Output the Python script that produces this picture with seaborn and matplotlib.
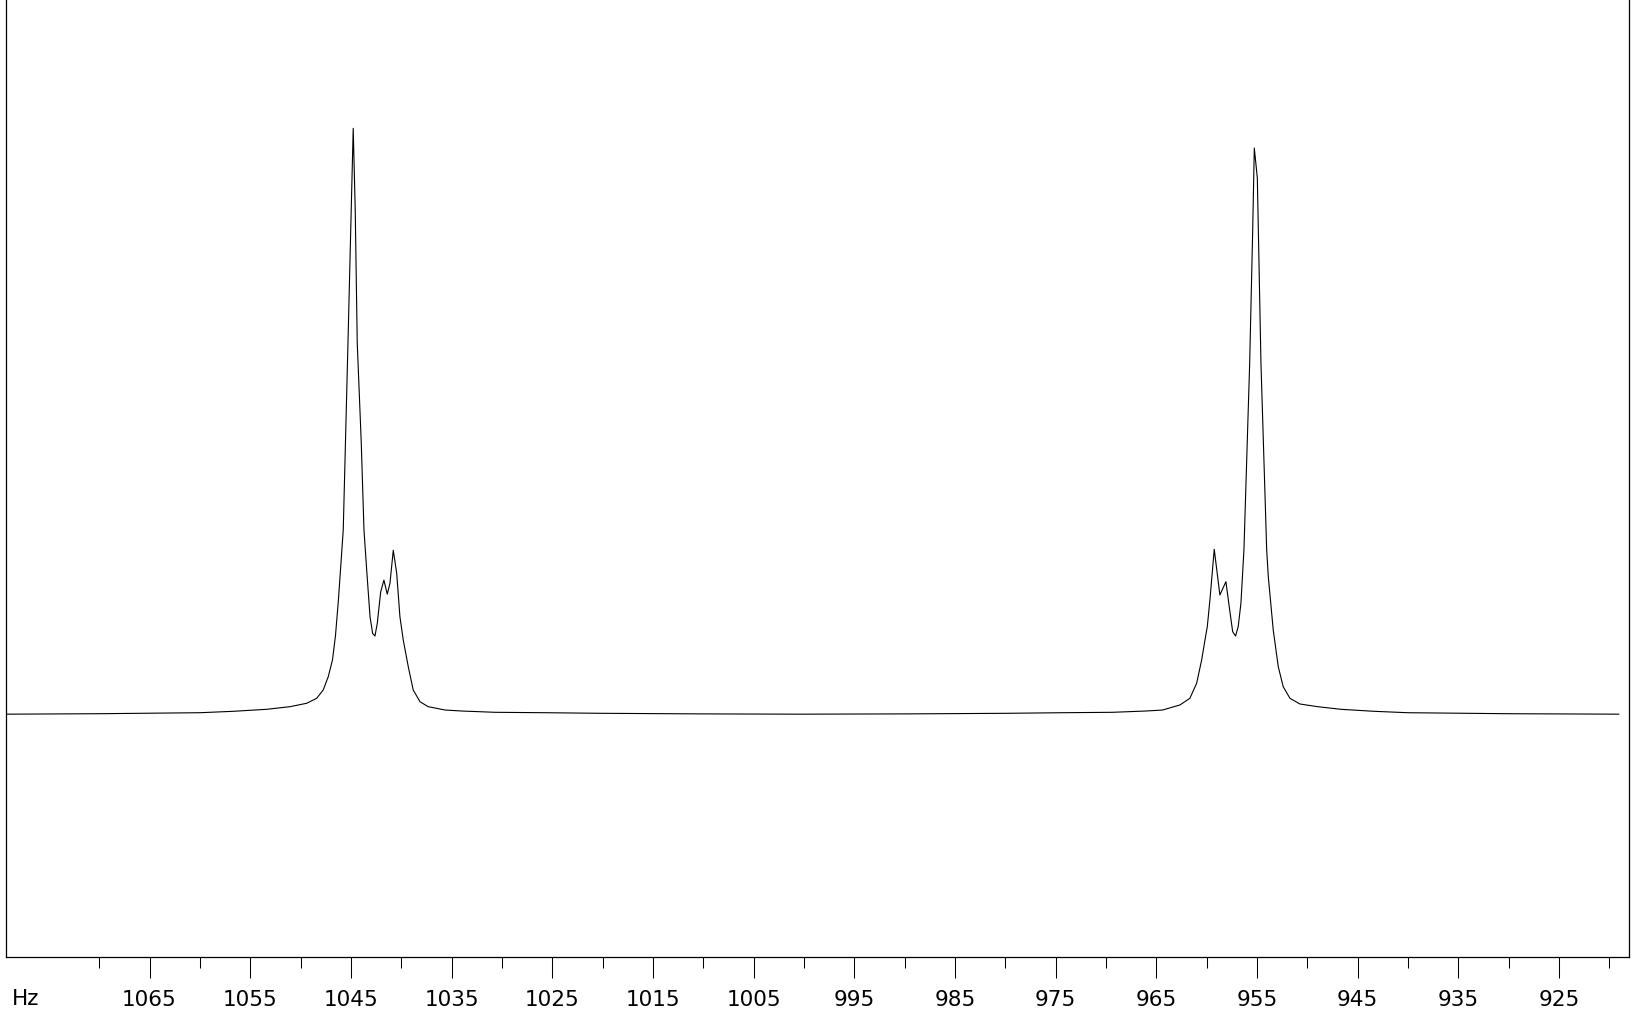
import numpy as np
import pandas as pd
import seaborn as sns
import matplotlib.pyplot as plt
from matplotlib.ticker import FixedLocator, FuncFormatter

# spectrum trace (Hz, relative intensity)
hz = [1079.26, 1069.93, 1059.99, 1056.69, 1053.37, 1051.05, 1049.39, 1048.40,
      1047.75, 1047.25, 1046.83, 1046.53, 1046.24, 1045.76, 1045.29,
      1044.77, 1044.57, 1044.37, 1043.97, 1043.70, 1043.43, 1043.10, 1042.84,
      1042.61, 1042.38, 1042.04, 1041.72, 1041.39, 1041.12, 1040.79, 1040.45,
      1040.13, 1039.80, 1039.30, 1038.81, 1038.14, 1037.32, 1035.66, 1034.00,
      1030.69, 1025.72, 1020.26, 1010.33, 1000.40, 989.70, 979.77, 974.31,
      969.34, 966.03, 964.37, 962.65, 961.66, 960.99, 960.49, 960.16,
      959.93, 959.67, 959.24, 958.68, 958.08, 957.75, 957.41, 957.12,
      956.86, 956.59, 956.29, 955.72, 955.42, 955.26, 954.96, 954.60,
      954.03, 953.87, 953.38, 952.88, 952.39, 951.72, 950.73, 948.98,
      946.66, 943.35, 940.04, 930.11, 919.04]

intensity = [0.0002, 0.0010, 0.0027, 0.0051, 0.0085, 0.0130, 0.0188, 0.0273,
             0.0415, 0.0642, 0.0927, 0.1345, 0.1950, 0.3145, 0.6340,
             1.0000, 0.8610, 0.6340, 0.4630, 0.3145, 0.2460, 0.1666, 0.1380,
             0.1336, 0.1550, 0.2090, 0.2290, 0.2050, 0.2235, 0.2800, 0.2406,
             0.1666, 0.1268, 0.0812, 0.0415, 0.0215, 0.0130, 0.0073, 0.0056,
             0.0034, 0.0027, 0.0017, 0.0007, 0.0002, 0.0007, 0.0017, 0.0027,
             0.0034, 0.0056, 0.0073, 0.0159, 0.0273, 0.0529, 0.0927, 0.1268,
             0.1495, 0.1950, 0.2816, 0.2036, 0.2263, 0.1836, 0.1410, 0.1336,
             0.1495, 0.1894, 0.2804, 0.5995, 0.8265, 0.9664, 0.9152, 0.5995,
             0.2804, 0.2348, 0.1439, 0.0812, 0.0471, 0.0273, 0.0176, 0.0130,
             0.0085, 0.0051, 0.0027, 0.0010, 0.0002]

major_ticks = [1065, 1055, 1045, 1035, 1025, 1015, 1005, 995,
               985, 975, 965, 955, 945, 935, 925]
minor_ticks = [1070, 1060, 1050, 1040, 1030, 1020, 1010, 1000,
               990, 980, 970, 960, 950, 940, 930, 920]

df = pd.DataFrame({"Hz": hz, "I": intensity})

sns.set_style("white")
plt.rcParams["font.family"] = ["DejaVu Sans"]

fig = plt.figure(figsize=(16.35, 10.33), dpi=100)
ax = fig.add_axes([6 / 1635, 76 / 1033, 1623 / 1635, 957 / 1033])

sns.lineplot(data=df, x="Hz", y="I", color="black", linewidth=0.8,
             sort=False, estimator=None, ax=ax)

ax.set_xlim(1079.26, 918.04)
ax.set_ylim(-0.4142, 1.219)

ax.xaxis.set_major_locator(FixedLocator(major_ticks))
ax.xaxis.set_minor_locator(FixedLocator(minor_ticks))
ax.xaxis.set_major_formatter(FuncFormatter(lambda v, p: f"{v:.0f}"))
ax.tick_params(axis="x", which="major", direction="out", length=15, width=0.75,
               color="black", labelcolor="black", labelsize=15.5, pad=8.5,
               bottom=True)
ax.tick_params(axis="x", which="minor", direction="out", length=7.7, width=0.75,
               color="black", bottom=True)
ax.set_yticks([])
ax.set_xlabel("")
ax.set_ylabel("")

ax.spines["top"].set_visible(False)
for s in ["left", "right", "bottom"]:
    ax.spines[s].set_color("black")
    ax.spines[s].set_linewidth(0.9)

fig.text(26 / 1635, 1 - 998.7 / 1033, "Hz", ha="center", va="center",
         fontsize=15.5, color="black")

plt.savefig("out.png", dpi=100, facecolor="white")
